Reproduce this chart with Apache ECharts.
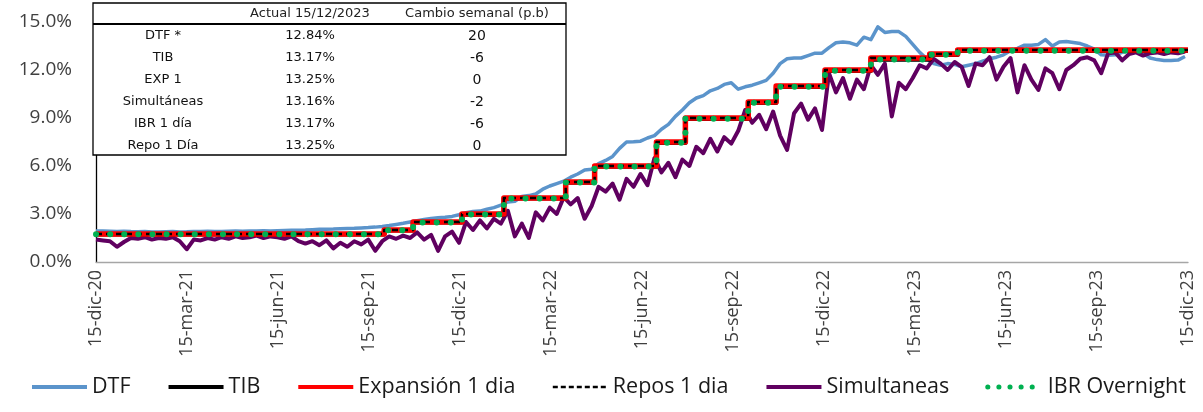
<!DOCTYPE html>
<html><head><meta charset="utf-8">
<script src="https://cdn.jsdelivr.net/npm/echarts@6/dist/echarts.min.js"></script>
<style>html,body{margin:0;padding:0;background:#fff}#c{width:1203px;height:412px}</style>
</head><body><div id="c"></div>
<script>
// ---------- DATA ----------
const xTickLabels = ['15-dic-20','15-mar-21','15-jun-21','15-sep-21','15-dic-21','15-mar-22','15-jun-22','15-sep-22','15-dic-22','15-mar-23','15-jun-23','15-sep-23','15-dic-23'];
const startDate = '2020-12-15';
const endDate = '2023-12-15';
const weekStepDays = 7; // weekly observations starting at startDate

const dtf = [1.93,1.93,1.92,1.91,1.92,1.90,1.89,1.90,1.88,1.87,1.89,1.90,1.88,1.89,1.91,1.90,1.92,1.91,1.90,1.92,
  1.93,1.92,1.94,1.93,1.95,1.94,1.96,1.97,1.98,1.99,2.00,2.02,2.04,2.05,2.06,2.08,2.10,2.11,2.13,2.15,
  2.18,2.22,2.28,2.35,2.42,2.50,2.58,2.66,2.72,2.76,2.80,2.85,2.95,3.08,3.15,3.18,3.30,3.40,3.55,3.75,
  3.80,4.10,4.15,4.25,4.55,4.75,4.90,5.05,5.30,5.50,5.75,5.80,6.15,6.35,6.60,7.10,7.50,7.52,7.55,7.75,
  7.90,8.30,8.60,9.10,9.50,9.95,10.25,10.40,10.70,10.85,11.10,11.20,10.80,10.95,11.05,11.20,11.35,11.80,12.40,12.70,
  12.75,12.75,12.90,13.05,13.05,13.40,13.70,13.75,13.70,13.55,14.05,13.90,14.70,14.35,14.40,14.40,14.10,13.60,13.10,12.70,
  12.40,12.30,12.40,12.35,12.20,12.30,12.40,12.55,12.70,12.80,12.95,13.20,13.35,13.55,13.55,13.60,13.90,13.50,13.75,13.78,
  13.72,13.65,13.50,13.30,12.95,12.92,12.95,13.10,13.25,13.15,13.05,12.75,12.65,12.60,12.60,12.62,12.84];

const simultaneas = [1.40,1.35,1.30,0.95,1.25,1.50,1.45,1.55,1.40,1.50,1.45,1.55,1.30,0.80,1.40,1.35,1.50,1.40,1.55,1.45,
  1.60,1.50,1.55,1.65,1.50,1.60,1.55,1.45,1.60,1.30,1.15,1.30,1.05,1.35,0.85,1.20,0.95,1.30,1.10,1.40,
  0.70,1.30,1.60,1.45,1.65,1.50,1.85,1.40,1.70,0.70,1.60,1.90,1.20,2.50,2.00,2.60,2.10,2.70,2.40,3.20,
  1.60,2.40,1.50,3.10,2.60,3.40,3.00,4.05,3.60,4.00,2.70,3.50,4.70,4.40,4.90,3.90,5.20,4.70,5.50,4.80,
  6.50,5.60,6.20,5.30,6.40,6.00,7.20,6.80,7.70,6.90,7.80,7.40,8.20,9.50,8.70,9.20,8.30,9.40,7.90,7.00,
  9.30,9.90,8.90,9.60,8.25,11.80,10.60,11.50,10.20,11.40,10.80,12.30,11.70,12.40,9.10,11.20,10.80,11.50,12.30,12.10,
  12.70,12.40,12.00,12.50,12.20,11.00,12.40,12.30,12.80,11.40,12.20,12.75,10.60,12.30,11.40,10.75,12.10,11.80,10.80,12.00,
  12.30,12.70,12.80,12.60,11.80,13.05,13.10,12.60,13.00,13.10,12.90,13.05,13.10,13.00,13.10,13.05,13.16];

const stepDates = ['2020-12-15','2021-09-30','2021-10-29','2021-12-17','2022-01-28','2022-03-31','2022-04-29','2022-06-30','2022-07-29','2022-09-30','2022-10-28','2022-12-16','2023-01-31','2023-03-31','2023-04-28','2023-12-15'];
const expansion = [1.75,2.00,2.50,3.00,4.00,5.00,6.00,7.50,9.00,10.00,11.00,12.00,12.75,13.00,13.25,13.25];
const repos     = [1.75,2.00,2.50,3.00,4.00,5.00,6.00,7.50,9.00,10.00,11.00,12.00,12.75,13.00,13.25,13.25];
const tib       = [1.73,1.98,2.48,2.97,3.98,4.97,5.97,7.46,8.96,9.96,10.95,11.95,12.65,12.95,13.20,13.17];
const ibr       = [1.73,1.98,2.47,2.97,3.97,4.97,5.97,7.46,8.96,9.96,10.95,11.95,12.65,12.95,13.20,13.17];

const seriesNames = ['DTF','TIB','Expansión 1 dia','Repos 1 dia','Simultaneas','IBR Overnight'];

const tableHeader = ['', 'Actual 15/12/2023', 'Cambio semanal (p.b)'];
const tableNames  = ['DTF *','TIB','EXP 1','Simultáneas','IBR 1 día','Repo 1 Día'];
const tableActual = ['12.84%','13.17%','13.25%','13.16%','13.17%','13.25%'];
const tableChange = ['20','-6','0','-2','-6','0'];

// ---------- HELPERS ----------
const DAY = 86400000;
function dayOf(s){ return Math.round((Date.parse(s + 'T00:00:00Z') - Date.parse(startDate + 'T00:00:00Z')) / DAY); }
const totalDays = dayOf(endDate);
const quarter = totalDays / 12;
const weekly = vals => vals.map((v, i) => [i * weekStepDays, v]);
const stepped = vals => vals.map((v, i) => [dayOf(stepDates[i]), v]);

// ---------- TABLE (graphic) ----------
const T = { left: 93, top: 3, width: 473, height: 152, headerH: 21, row0: 36, rowH: 22, cols: [163, 310, 477] };
const tf = { fontFamily: 'DejaVu Sans', fontSize: 13, fill: '#111', align: 'center', verticalAlign: 'middle' };
const graphics = [
  { type: 'rect', shape: { x: T.left, y: T.top, width: T.width, height: T.height }, style: { fill: '#fff', stroke: '#000', lineWidth: 1.3 }, z: 100 },
  { type: 'line', shape: { x1: T.left, y1: T.top + T.headerH, x2: T.left + T.width, y2: T.top + T.headerH }, style: { stroke: '#000', lineWidth: 2 }, z: 101 }
];
tableHeader.forEach((h, c) => { if (h) graphics.push({ type: 'text', x: T.cols[c], y: T.top + 11, style: Object.assign({ text: h }, tf, { fill: '#222' }), z: 102 }); });
tableNames.forEach((n, r) => {
  const y = T.row0 + r * T.rowH;
  [n, tableActual[r], tableChange[r]].forEach((t, c) => {
    graphics.push({ type: 'text', x: T.cols[c], y: y, style: Object.assign({ text: t }, tf, c === 2 ? { fontSize: 14 } : {}), z: 102 });
  });
});

// ---------- CHART ----------
const chart = echarts.init(document.getElementById('c'), null, { renderer: 'canvas' });
const base = { type: 'line', symbol: 'none', showSymbol: false, animation: false };
const styles = {
  'DTF':             { color: '#5B94CB', width: 3.5, z: 2 },
  'Simultaneas':     { color: '#600060', width: 4, z: 3 },
  'TIB':             { color: '#000000', width: 4.5, z: 4 },
  'Expansión 1 dia': { color: '#FF0000', width: 5.5, z: 5 },
  'Repos 1 dia':     { color: '#000000', width: 2.5, z: 6, type: [6, 4] },
  'IBR Overnight':   { color: '#00B050', width: 6, z: 7, type: [0.1, 14], cap: 'round' }
};
const legendLine = {
  'DTF': { width: 4 }, 'TIB': { width: 4 }, 'Expansión 1 dia': { width: 4 },
  'Repos 1 dia': { width: 2.5, type: [5, 3] }, 'Simultaneas': { width: 4 },
  'IBR Overnight': { width: 5, type: [0.1, 11], cap: 'round' }
};
const dataFor = {
  'DTF': weekly(dtf),
  'TIB': stepped(tib),
  'Expansión 1 dia': stepped(expansion),
  'Repos 1 dia': stepped(repos),
  'Simultaneas': weekly(simultaneas),
  'IBR Overnight': stepped(ibr)
};
const series = seriesNames.map(n => {
  const s = styles[n];
  const o = Object.assign({}, base, {
    name: n, data: dataFor[n], z: s.z,
    itemStyle: { color: s.color },
    lineStyle: { color: s.color, width: s.width, type: s.type || 'solid', cap: s.cap || 'butt', join: 'round' }
  });
  if (n !== 'DTF' && n !== 'Simultaneas') o.step = 'end';
  return o;
});

chart.setOption({
  animation: false,
  backgroundColor: '#fff',
  grid: { left: 96, right: 15, top: 6, bottom: 150, containLabel: false },
  xAxis: {
    type: 'value', min: 0, max: totalDays, interval: quarter,
    axisLine: { show: true, lineStyle: { color: '#A6A6A6', width: 1.3 } },
    axisTick: { show: false }, splitLine: { show: false },
    axisLabel: { rotate: 90, margin: 8, fontFamily: 'Open Sans', fontSize: 18, color: '#404040',
      formatter: v => xTickLabels[Math.round(v / quarter)] || '' }
  },
  yAxis: {
    type: 'value', min: 0, max: 16, interval: 3,
    axisLine: { show: true, lineStyle: { color: '#000', width: 1.3 } },
    axisTick: { show: false }, splitLine: { show: false },
    axisLabel: { margin: 24, fontFamily: 'Open Sans', fontSize: 19, color: '#404040', showMaxLabel: false,
      formatter: v => (v % 3 === 0 ? v.toFixed(1) + '%' : '') }
  },
  legend: {
    orient: 'horizontal', left: 30, top: 376, padding: 0, width: 1180, itemWidth: 55, itemHeight: 14, itemGap: 36,
    textStyle: { fontFamily: 'Open Sans', fontSize: 21.5, color: '#1a1a1a' },
    data: seriesNames.map(n => ({
      name: n,
      itemStyle: { opacity: 0 },
      lineStyle: Object.assign({ color: styles[n].color }, legendLine[n])
    }))
  },
  series: series,
  graphic: graphics
});
</script></body></html>
